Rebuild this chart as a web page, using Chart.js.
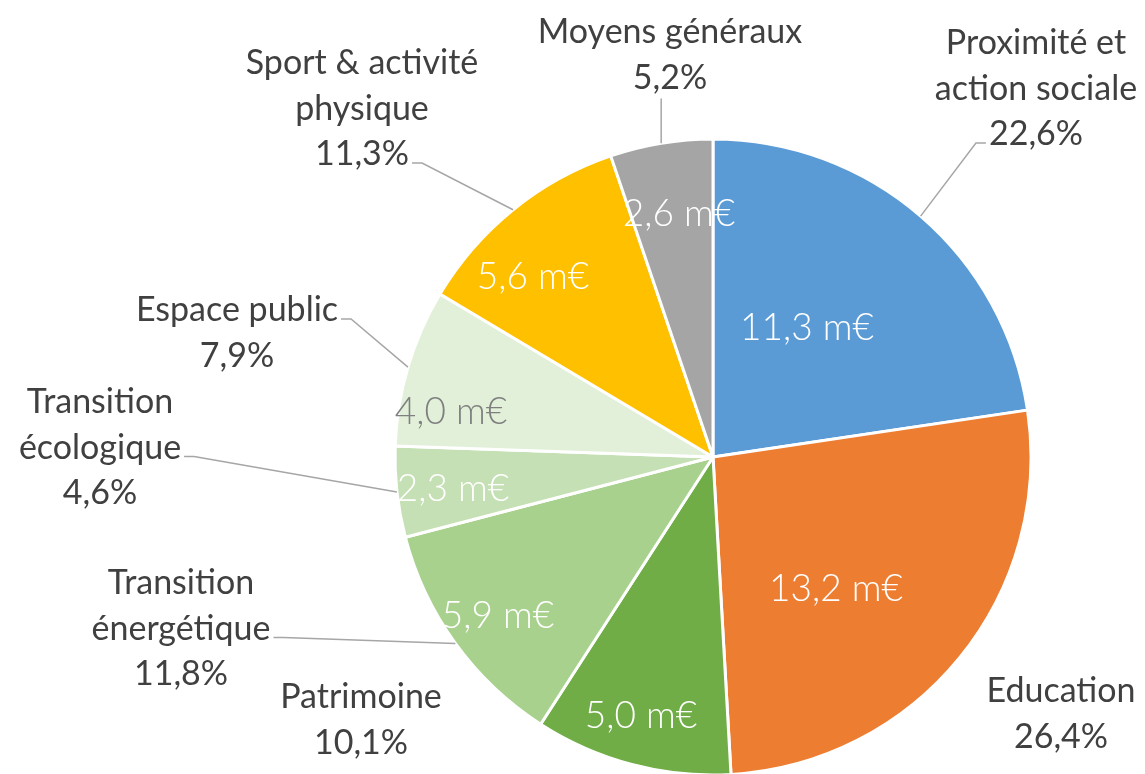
<!DOCTYPE html>
<html>
<head>
<meta charset="utf-8">
<script src="https://cdn.jsdelivr.net/npm/chart.js@4/dist/chart.umd.min.js"></script>
<style>
  html, body { margin: 0; padding: 0; background: #ffffff; }
  #wrap { width: 1145px; height: 774px; position: relative; }
</style>
</head>
<body>
<div id="wrap"><canvas id="c"></canvas></div>
<script>
// ---- Data ----
const categories = [
  ["Proximité et", "action sociale"],
  ["Education"],
  ["Patrimoine"],
  ["Transition", "énergétique"],
  ["Transition", "écologique"],
  ["Espace public"],
  ["Sport & activité", "physique"],
  ["Moyens généraux"]
];
const amounts = [11.3, 13.2, 5.0, 5.9, 2.3, 4.0, 5.6, 2.6];      // m€
const percents = [22.6, 26.4, 10.1, 11.8, 4.6, 7.9, 11.3, 5.2];   // %
const colors = ["#5B9BD5", "#ED7D31", "#70AD47", "#A9D18E", "#C5E0B4", "#E2F0D9", "#FFC000", "#A5A5A5"];
const valueColors = ["#FFFFFF", "#FFFFFF", "#FFFFFF", "#FFFFFF", "#FFFFFF", "#7F7F7F", "#FFFFFF", "#FFFFFF"];

// ---- Layout (label placement relative to the pie centre, px) ----
const innerPos = [[94, -117], [123, 144], [-72, 271], [-215, 171], [-260, 44], [-262, -33], [-180, -168], [-34, -231]];
const outerPos = [[323, -403], [348, 245], [-352, 251], [-532, 137], [-613, -44], [-476, -136], [-351, -383], [-43, -414]];
const leaders = [
  {line: 2, side: "left"}, null, null,
  {line: 1, side: "right"}, {line: 1, side: "right"}, {line: 0, side: "right"},
  {line: 2, side: "right"}, {side: "below"}
];
const LINE_H = 45.5;
const OUTER_FONT = "34px Lato, 'Open Sans', sans-serif";
const INNER_FONT = "300 37px Lato, 'Open Sans', sans-serif";

const fmt = v => v.toFixed(1).replace(".", ",");

const labelPlugin = {
  id: "labelPlugin",
  afterDatasetsDraw(chart) {
    const ctx = chart.ctx;
    const meta = chart.getDatasetMeta(0);
    ctx.save();
    meta.data.forEach((arc, i) => {
      const p = arc.getProps(["x", "y", "outerRadius", "startAngle", "endAngle"], true);
      const mid = (p.startAngle + p.endAngle) / 2;
      const ex = p.x + p.outerRadius * Math.cos(mid);
      const ey = p.y + p.outerRadius * Math.sin(mid);

      // value inside slice
      ctx.font = INNER_FONT;
      ctx.fillStyle = valueColors[i];
      ctx.textAlign = "center";
      ctx.textBaseline = "alphabetic";
      ctx.fillText(fmt(amounts[i]) + " m€", p.x + innerPos[i][0], p.y + innerPos[i][1]);

      // outer category label
      ctx.font = OUTER_FONT;
      ctx.fillStyle = "#404040";
      const lines = categories[i].concat([fmt(percents[i]) + "%"]);
      const cx = p.x + outerPos[i][0];
      const by = p.y + outerPos[i][1];
      lines.forEach((t, k) => ctx.fillText(t, cx, by + k * LINE_H));

      // leader line
      const L = leaders[i];
      if (L) {
        ctx.strokeStyle = "#A6A6A6";
        ctx.lineWidth = 1.5;
        ctx.beginPath();
        if (L.side === "below") {
          const yb = by + (lines.length - 1) * LINE_H + 10;
          ctx.moveTo(ex, yb);
          ctx.lineTo(ex, ey);
        } else {
          const w = ctx.measureText(lines[L.line]).width;
          const ly = by + L.line * LINE_H - 2;
          let x1, x2;
          if (L.side === "right") { x1 = cx + w / 2 + 3; x2 = x1 + 10; }
          else { x1 = cx - w / 2 - 3; x2 = x1 - 10; }
          ctx.moveTo(x1, ly);
          ctx.lineTo(x2, ly);
          ctx.lineTo(ex, ey);
        }
        ctx.stroke();
      }
    });
    ctx.restore();
  }
};

new Chart(document.getElementById("c"), {
  type: "pie",
  data: {
    labels: categories.map(c => c.join(" ")),
    datasets: [{
      data: amounts,
      backgroundColor: colors,
      borderColor: "#FFFFFF",
      borderWidth: 3,
      hoverOffset: 0,
      radius: 318
    }]
  },
  options: {
    responsive: true,
    maintainAspectRatio: false,
    animation: false,
    layout: { padding: { left: 395, right: 114, top: 140, bottom: 0 } },
    plugins: { legend: { display: false }, tooltip: { enabled: false } }
  },
  plugins: [labelPlugin]
});
</script>
</body>
</html>
